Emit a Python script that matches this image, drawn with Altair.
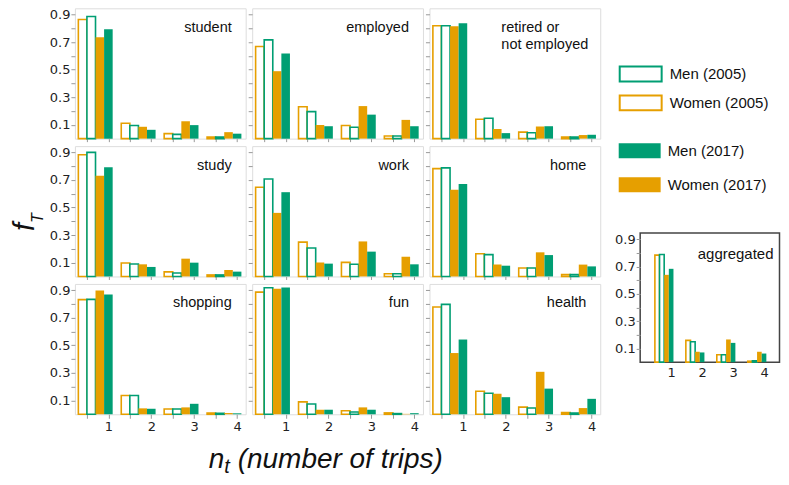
import altair as alt
import pandas as pd

GREEN = "#009E73"
ORANGE = "#E69F00"
AX_FONT = "DejaVu Sans"
LAB_FONT = "Liberation Sans"

n_trips = [1, 2, 3, 4]
series_names = ["Women (2005)", "Men (2005)", "Women (2017)", "Men (2017)"]
panel_keys = ["student", "employed", "retired", "study", "work", "home",
              "shopping", "fun", "health", "aggregated"]
panel_labels = ["student", "employed", ["retired or", "not employed"], "study", "work",
                "home", "shopping", "fun", "health", "aggregated"]

# rows: Women 2005, Men 2005, Women 2017, Men 2017 ; columns: n = 1..4
student = [[0.864, 0.112, 0.036, 0.012], [0.886, 0.095, 0.031, 0.012],
           [0.735, 0.086, 0.126, 0.047], [0.793, 0.064, 0.098, 0.036]]
employed = [[0.668, 0.231, 0.095, 0.019], [0.716, 0.196, 0.083, 0.019],
            [0.489, 0.098, 0.236, 0.136], [0.618, 0.090, 0.174, 0.090]]
retired = [[0.819, 0.141, 0.047, 0.012], [0.819, 0.148, 0.043, 0.012],
           [0.814, 0.069, 0.088, 0.026], [0.836, 0.040, 0.090, 0.028]]
study = [[0.883, 0.098, 0.033, 0.011], [0.900, 0.090, 0.025, 0.011],
         [0.731, 0.088, 0.129, 0.047], [0.792, 0.069, 0.100, 0.035]]
work = [[0.647, 0.249, 0.102, 0.020], [0.707, 0.206, 0.088, 0.020],
        [0.461, 0.102, 0.254, 0.143], [0.611, 0.093, 0.180, 0.088]]
home = [[0.782, 0.165, 0.061, 0.013], [0.787, 0.158, 0.061, 0.013],
        [0.628, 0.086, 0.175, 0.086], [0.671, 0.078, 0.155, 0.073]]
shopping = [[0.831, 0.136, 0.038, 0.009], [0.833, 0.136, 0.038, 0.007],
            [0.898, 0.043, 0.050, 0.009], [0.869, 0.040, 0.076, 0.007]]
fun = [[0.886, 0.090, 0.026, 0.010], [0.917, 0.074, 0.016, 0.005],
       [0.910, 0.033, 0.050, 0.003], [0.919, 0.033, 0.033, 0.008]]
health = [[0.778, 0.167, 0.052, 0.012], [0.797, 0.153, 0.045, 0.009],
          [0.444, 0.148, 0.308, 0.045], [0.542, 0.124, 0.186, 0.112]]
aggregated = [[0.783, 0.159, 0.054, 0.007], [0.788, 0.149, 0.054, 0.010],
              [0.639, 0.076, 0.166, 0.076], [0.683, 0.071, 0.141, 0.063]]

panel_values = [student, employed, retired, study, work, home, shopping, fun, health, aggregated]

rows = []
for key, vals in zip(panel_keys, panel_values):
    for s, svals in zip(series_names, vals):
        for n, v in zip(n_trips, svals):
            rows.append({"panel": key, "series": s, "year": s[-5:-1], "n": n, "value": v})
df = pd.DataFrame(rows)

ORDER = "indexof(['Women (2005)','Men (2005)','Women (2017)','Men (2017)'], datum.series)"
RECT = "M-2.8,-1H2.8V1H-2.8Z"

stroke_scale = alt.Scale(domain=["Men (2005)", "Women (2005)"], range=[GREEN, ORANGE])
fill_scale = alt.Scale(domain=["Men (2017)", "Women (2017)"], range=[GREEN, ORANGE])
stroke_legend = alt.Legend(orient="none", legendX=558, legendY=57.2, title=None,
                           symbolType=RECT, symbolSize=225, symbolFillColor="white",
                           symbolStrokeWidth=2, labelFont=LAB_FONT, labelFontSize=15,
                           labelColor="#111", labelOffset=20.5, rowPadding=6,
                           direction="vertical")
fill_legend = alt.Legend(orient="none", legendX=558, legendY=135.2, title=None,
                         symbolType=RECT, symbolSize=225, symbolStrokeWidth=0,
                         symbolOpacity=1,
                         labelFont=LAB_FONT, labelFontSize=15, labelColor="#111",
                         labelOffset=20.5, rowPadding=18, direction="vertical")

Y_DOMAIN = [0, 0.945]
y_ticks = [0.1, 0.2, 0.3, 0.4, 0.5, 0.6, 0.7, 0.8, 0.9]


def y_axis(show):
    return alt.Axis(values=y_ticks, labels=show,
                    labelExpr="round(datum.value*10) % 2 == 1 ? format(datum.value, '.1f') : ''",
                    domain=False, grid=False, tickSize=4, tickColor="#999", tickWidth=1,
                    labelFont=AX_FONT, labelFontSize=13, labelColor="#222",
                    labelPadding=1, labelOverlap=False, title=None)


def x_axis(show, agg):
    if agg:
        return alt.Axis(values=[1, 2, 3, 4], labels=True, ticks=False, domain=False,
                        grid=False, labelFont=AX_FONT, labelFontSize=13, labelColor="#222",
                        labelPadding=4, labelFlush=False, labelOverlap=False,
                        format="d", title=None)
    return alt.Axis(values=[0.5, 1, 1.5, 2, 2.5, 3, 3.5, 4], labels=show,
                    labelExpr="datum.value % 1 == 0 ? format(datum.value, 'd') : ''",
                    domain=False, grid=False, tickSize=4 if show else 3, tickColor="#999",
                    tickWidth=1, labelFont=AX_FONT, labelFontSize=13, labelColor="#222",
                    labelPadding=2, labelFlush=False, labelOverlap=False, title=None)


def panel(idx, col, row, extra=None):
    key = panel_keys[idx]
    label = panel_labels[idx]
    agg = key == "aggregated"
    step, hw = (0.15, 0.075) if agg else (0.2, 0.1)
    xs = alt.Scale(domain=[0, 4.5] if agg else [0.22, 4.2], nice=False, zero=False)
    ys = alt.Scale(domain=Y_DOMAIN, nice=False)
    base = (alt.Chart(df)
            .transform_filter(alt.datum.panel == key)
            .transform_calculate(center=f"datum.n - {step}*(3 - {ORDER})")
            .transform_calculate(x0=f"datum.center - {hw}", x1=f"datum.center + {hw}"))
    xa = x_axis(row == 2, agg)
    ya = y_axis(col == 0 or agg)
    b05 = (base.transform_filter(alt.datum.year == "2005")
           .mark_rect(fill="white", strokeWidth=1.6)
           .encode(x=alt.X("x0:Q", scale=xs, axis=xa), x2="x1:Q",
                   y=alt.Y("value:Q", scale=ys, axis=ya), y2=alt.datum(0),
                   stroke=alt.Stroke("series:N", scale=stroke_scale, legend=stroke_legend)))
    b17 = (base.transform_filter(alt.datum.year == "2017")
           .mark_rect()
           .encode(x=alt.X("x0:Q", scale=xs, axis=xa), x2="x1:Q",
                   y=alt.Y("value:Q", scale=ys, axis=ya), y2=alt.datum(0),
                   fill=alt.Fill("series:N", scale=fill_scale, legend=fill_legend)))
    one = pd.DataFrame({"k": [0]})
    if isinstance(label, list):
        lab = alt.Chart(one).mark_text(align="left", baseline="alphabetic", font=LAB_FONT,
                                       fontSize=14.5, color="#111", lineHeight=17).encode(
            x=alt.value(72), y=alt.value(23.5), text=alt.value(label))
    else:
        w = 139.5 if agg else 171
        lab = alt.Chart(one).mark_text(align="right", baseline="alphabetic", font=LAB_FONT,
                                       fontSize=15 if agg else 14.5, color="#111").encode(
            x=alt.value(w - (6 if agg else 14)), y=alt.value(26 if agg else 23.5),
            text=alt.value(label))
    layers = [b05, b17, lab]
    if extra is not None:
        layers += extra
    ch = alt.layer(*layers).properties(width=139.5 if agg else 171,
                                        height=129.3 if agg else 130.5)
    if agg:
        ch = ch.properties(view=alt.ViewBackground(stroke="#444", strokeWidth=1.5))
    return ch


one = pd.DataFrame({"k": [0]})
ylab = [
    alt.Chart(one).mark_text(align="center", baseline="alphabetic", font=LAB_FONT,
                             fontSize=29, fontStyle="italic", angle=270, color="#111")
    .encode(x=alt.value(-41), y=alt.value(81), text=alt.value("f")),
    alt.Chart(one).mark_text(align="center", baseline="alphabetic", font=LAB_FONT,
                             fontSize=16, fontStyle="italic", angle=270, color="#111")
    .encode(x=alt.value(-32), y=alt.value(72), text=alt.value("T")),
]
xlab = [
    alt.Chart(one).mark_text(align="left", baseline="alphabetic", font=LAB_FONT,
                             fontSize=28, fontStyle="italic", color="#111")
    .encode(x=alt.value(-43.5), y=alt.value(184.7), text=alt.value("n")),
    alt.Chart(one).mark_text(align="left", baseline="alphabetic", font=LAB_FONT,
                             fontSize=20, fontStyle="italic", color="#111")
    .encode(x=alt.value(-28), y=alt.value(189.5), text=alt.value("t")),
    alt.Chart(one).mark_text(align="left", baseline="alphabetic", font=LAB_FONT,
                             fontSize=28, fontStyle="italic", color="#111")
    .encode(x=alt.value(-14.5), y=alt.value(184.7), text=alt.value("(number of trips)")),
]

cells = []
for r in range(3):
    for c in range(3):
        idx = r * 3 + c
        extra = None
        if r == 1 and c == 0:
            extra = ylab
        if r == 2 and c == 1:
            extra = xlab
        cells.append(panel(idx, c, r, extra))
grid = alt.concat(*cells, columns=3, spacing={"row": 7, "column": 6.5}, bounds="flush")

spacer = (alt.Chart(one).mark_point(opacity=0)
          .encode(x=alt.value(70), y=alt.value(100))
          .properties(width=139.5, height=223.9,
                      view=alt.ViewBackground(strokeOpacity=0)))
right = alt.vconcat(spacer, panel(9, 0, 2), spacing=0)

chart = (alt.hconcat(grid, right, spacing=12)
         .properties(padding={"left": 2, "top": -1, "right": 0, "bottom": 2})
         .configure_view(stroke="#7a7a7a", strokeWidth=1.6)
         .configure(font=LAB_FONT))

chart.save("out.html", embed_options={"renderer": "svg", "actions": False})
